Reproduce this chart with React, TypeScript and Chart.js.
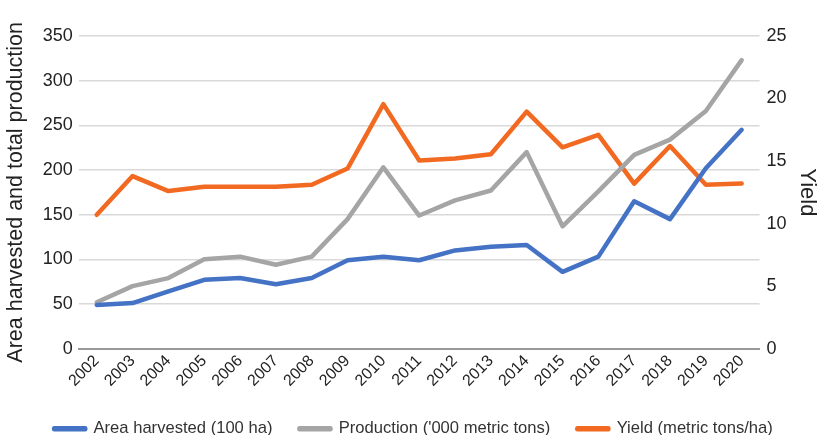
import React, { useEffect, useRef } from "react";
import { Chart, registerables } from "chart.js";

Chart.register(...registerables);

const years = ["2002","2003","2004","2005","2006","2007","2008","2009","2010","2011","2012","2013","2014","2015","2016","2017","2018","2019","2020"];
const areaHarvested = [49, 51, 64, 77, 79, 72, 79, 99, 103, 99, 110, 114, 116, 86, 103, 165, 145, 202, 245];
const production = [52, 70, 79, 100, 103, 94, 103, 145, 203, 149, 166, 177, 220, 137, 176, 217, 234, 266, 323];
const yieldValues = [10.7, 13.8, 12.6, 12.95, 12.95, 12.95, 13.1, 14.4, 19.55, 15.05, 15.2, 15.55, 18.95, 16.1, 17.1, 13.2, 16.2, 13.1, 13.2];

const FONT = "'Liberation Sans', Arial, Helvetica, sans-serif";

export default function App() {
  const ref = useRef<HTMLCanvasElement | null>(null);
  useEffect(() => {
    if (!ref.current) return;
    const chart = new Chart(ref.current, {
      type: "line",
      data: {
        labels: years,
        datasets: [
          {
            label: "Area harvested (100 ha)",
            data: areaHarvested,
            borderColor: "#4472C4",
            backgroundColor: "#4472C4",
            borderWidth: 4.5,
            pointRadius: 0,
            borderCapStyle: "round",
            borderJoinStyle: "round",
            yAxisID: "y",
          },
          {
            label: "Production ('000 metric tons)",
            data: production,
            borderColor: "#A5A5A5",
            backgroundColor: "#A5A5A5",
            borderWidth: 4.5,
            pointRadius: 0,
            borderCapStyle: "round",
            borderJoinStyle: "round",
            yAxisID: "y",
          },
          {
            label: "Yield (metric tons/ha)",
            data: yieldValues,
            borderColor: "#F26A21",
            backgroundColor: "#F26A21",
            borderWidth: 4.5,
            pointRadius: 0,
            borderCapStyle: "round",
            borderJoinStyle: "round",
            yAxisID: "y1",
          },
        ],
      },
      options: {
        animation: false,
        responsive: true,
        maintainAspectRatio: false,
        layout: { padding: { left: 3, right: 1, top: 36, bottom: -12 } },
        plugins: {
          tooltip: { enabled: false },
          legend: {
            position: "bottom",
            labels: {
              boxWidth: 31,
              boxHeight: 1,
              padding: 27,
              color: "#333",
              font: { family: FONT, size: 16.6 },
            },
          },
        },
        scales: {
          x: {
            offset: true,
            grid: { display: false, drawTicks: false },
            border: { display: true, color: "#999", width: 2 },
            ticks: {
              minRotation: 45,
              maxRotation: 45,
              padding: 3,
              color: "#222",
              font: { family: FONT, size: 16 },
            },
          },
          y: {
            position: "left",
            min: 0,
            max: 350,
            ticks: { stepSize: 50, padding: 6, color: "#222", font: { family: FONT, size: 18 } },
            grid: { color: "#d9d9d9", lineWidth: 1.5, drawTicks: false },
            border: { display: false },
            title: {
              display: true,
              text: "Area harvested and total production",
              color: "#222",
              font: { family: FONT, size: 21.5 },
              padding: { top: 0, bottom: 8 },
            },
          },
          y1: {
            position: "right",
            min: 0,
            max: 25,
            ticks: { stepSize: 5, padding: 7, color: "#222", font: { family: FONT, size: 18 } },
            grid: { display: false, drawTicks: false },
            border: { display: false },
            title: {
              display: true,
              text: "Yield",
              color: "#222",
              font: { family: FONT, size: 22 },
              padding: { top: 4, bottom: 0 },
            },
          },
        },
      },
    });
    return () => chart.destroy();
  }, []);
  return (
    <div style={{ position: "fixed", left: 0, top: 0, width: 825, height: 435, background: "#fff" }}>
      <canvas ref={ref} />
    </div>
  );
}
